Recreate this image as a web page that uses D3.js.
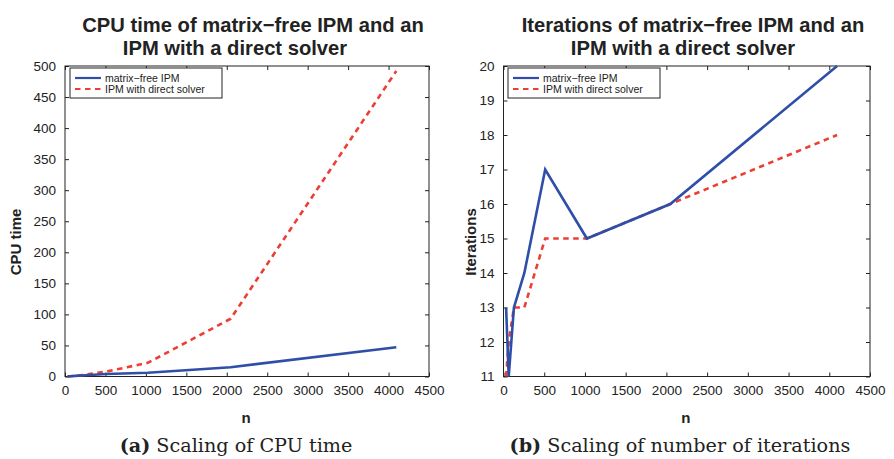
<!DOCTYPE html>
<html>
<head>
<meta charset="utf-8">
<script src="https://cdn.jsdelivr.net/npm/d3@7"></script>
<style>
  body { margin: 0; background: #fff; }
  svg { display: block; }
</style>
</head>
<body>
<svg id="fig" width="894" height="459"></svg>
<script>
// problem sizes
var nVals = [32, 64, 128, 256, 512, 1024, 2048, 4096];
// CPU time
var cpuMatrixFree = [0.2, 0.4, 1, 2, 4, 6, 15, 47];
var cpuDirect = [0.1, 0.3, 1, 3, 8, 22, 93, 492];
// iterations
var itMatrixFree = [13, 11, 13, 14, 17, 15, 16, 20];
var itDirect = [11, 12, 13, 13, 15, 15, 16, 18];

var xTicks = [0, 500, 1000, 1500, 2000, 2500, 3000, 3500, 4000, 4500];
var cpuTicks = [0, 50, 100, 150, 200, 250, 300, 350, 400, 450, 500];
var itTicks = [11, 12, 13, 14, 15, 16, 17, 18, 19, 20];

var seriesNames = ["matrix\u2212free IPM", "IPM with direct solver"];
var blue = "#2f4ea8", red = "#ec3f33";
var sans = "Liberation Sans, Arial, sans-serif";

var svg = d3.select("#fig");

var panels = [
  {left: 65, right: 429, top: 66, bottom: 376.5,
   yDomain: [0, 500], yTicks: cpuTicks, a: cpuMatrixFree, b: cpuDirect,
   title: [["CPU time of matrix\u2212free IPM and an", 253], ["IPM with a direct solver", 235]],
   ylabel: "CPU time", ylabelX: 16, capTag: "(a)", cap: "Scaling of CPU time", capX: 236},
  {left: 503.5, right: 870, top: 66, bottom: 376.5,
   yDomain: [11, 20], yTicks: itTicks, a: itMatrixFree, b: itDirect,
   title: [["Iterations of matrix\u2212free IPM and an", 693], ["IPM with a direct solver", 683]],
   ylabel: "Iterations", ylabelX: 471, capTag: "(b)", cap: "Scaling of number of iterations", capX: 680}
];

panels.forEach(function (p, k) {
  var x = d3.scaleLinear().domain([0, 4500]).range([p.left, p.right]);
  var y = d3.scaleLinear().domain(p.yDomain).range([p.bottom, p.top]);
  var g = svg.append("g");

  // ticks on all four sides, pointing in
  g.append("g").attr("transform", "translate(0," + p.bottom + ")")
    .call(d3.axisBottom(x).tickValues(xTicks).tickFormat(d3.format("d"))
      .tickSizeInner(-4).tickSizeOuter(0).tickPadding(9));
  g.append("g").attr("transform", "translate(0," + p.top + ")")
    .call(d3.axisTop(x).tickValues(xTicks).tickSizeInner(-4).tickSizeOuter(0).tickFormat(""));
  g.append("g").attr("transform", "translate(" + p.left + ",0)")
    .call(d3.axisLeft(y).tickValues(p.yTicks).tickFormat(d3.format("d"))
      .tickSizeInner(-4).tickSizeOuter(0).tickPadding(9));
  g.append("g").attr("transform", "translate(" + p.right + ",0)")
    .call(d3.axisRight(y).tickValues(p.yTicks).tickSizeInner(-4).tickSizeOuter(0).tickFormat(""));
  g.selectAll(".domain").remove();
  g.selectAll(".tick line").attr("stroke", "#222");
  g.selectAll(".tick text").attr("font-family", sans).attr("font-size", 13.5).attr("fill", "#222");
  g.append("rect")
    .attr("x", p.left).attr("y", p.top)
    .attr("width", p.right - p.left).attr("height", p.bottom - p.top)
    .attr("fill", "none").attr("stroke", "#222").attr("stroke-width", 1);

  var line = d3.line()
    .x(function (d, i) { return x(nVals[i]); })
    .y(function (d) { return y(d); });

  g.append("path").datum(p.b)
    .attr("d", line).attr("fill", "none")
    .attr("stroke", red).attr("stroke-width", 2.6)
    .attr("stroke-dasharray", "5.5,4.5");
  g.append("path").datum(p.a)
    .attr("d", line).attr("fill", "none")
    .attr("stroke", blue).attr("stroke-width", 2.6);

  // legend
  var lx = p.left + (k === 0 ? 5 : 4.5), ly = 68;
  var leg = g.append("g");
  leg.append("rect").attr("x", lx).attr("y", ly).attr("width", 152).attr("height", 30)
    .attr("fill", "#fff").attr("stroke", "#222").attr("stroke-width", 1);
  [[blue, null], [red, "5.5,4.5"]].forEach(function (s, j) {
    var yy = ly + 10 + j * 11;
    leg.append("line").attr("x1", lx + 5).attr("x2", lx + 31).attr("y1", yy).attr("y2", yy)
      .attr("stroke", s[0]).attr("stroke-width", 2.2)
      .attr("stroke-dasharray", s[1]);
    leg.append("text").attr("x", lx + 35).attr("y", yy + 3.8)
      .attr("font-family", sans).attr("font-size", 10.5)
      .attr("fill", "#222").text(seriesNames[j]);
  });

  // titles and labels
  p.title.forEach(function (t, j) {
    g.append("text").attr("x", t[1]).attr("y", 32 + j * 23)
      .attr("text-anchor", "middle").attr("font-family", sans)
      .attr("font-weight", "bold").attr("font-size", 20.2).attr("fill", "#222").text(t[0]);
  });
  g.append("text").attr("transform", "translate(" + p.ylabelX + ",242)rotate(-90)")
    .attr("text-anchor", "middle").attr("dy", "0.35em")
    .attr("font-family", sans)
    .attr("font-weight", "bold").attr("font-size", 15).attr("fill", "#222").text(p.ylabel);
  g.append("text").attr("x", (p.left + p.right) / 2 - 1).attr("y", 423)
    .attr("text-anchor", "middle").attr("font-family", sans)
    .attr("font-weight", "bold").attr("font-size", 15).attr("fill", "#222").text("n");

  var cap = g.append("text").attr("x", p.capX).attr("y", 452)
    .attr("text-anchor", "middle").attr("font-family", "DejaVu Serif, serif")
    .attr("font-size", 19.2).attr("fill", "#222");
  cap.append("tspan").attr("font-weight", "bold").text(p.capTag);
  cap.append("tspan").text(" " + p.cap);
});
</script>
</body>
</html>
